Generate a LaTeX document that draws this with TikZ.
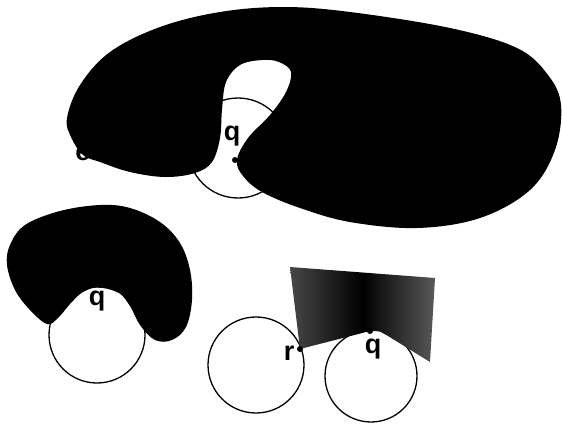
\documentclass[tikz,border=0pt]{standalone}
\usepackage{fontspec}
\setsansfont{Liberation Sans}
\begin{document}
\begin{tikzpicture}[x=1pt,y=-1pt,
  ring/.style={draw=black,line width=1.3pt,fill=white},
  blob/.style={fill=black,draw=none},
  lab/.style={font=\sffamily\bfseries\fontsize{27}{27}\selectfont,inner sep=0pt,text=black},
  pt/.style={circle,fill=black,inner sep=0pt,minimum size=6pt}]
\useasboundingbox (0,0) rectangle (562,429);
% top figure
\draw[ring] (238,148) circle (50);
\fill[blob] plot[smooth cycle,tension=0.6] coordinates {
 (67,118) (80,85) (110,52) (160,27) (220,12) (283,7) (350,12) (450,28)
 (517,48) (548,75) (561,105) (555,150) (530,190) (480,218) (417,228)
 (350,222) (300,208) (262,192) (243,176) (237,160) (248,138) (270,115)
 (286,92) (291,72) (279,62) (262,60) (240,65) (226,82) (222,110)
 (220,138) (212,162) (195,173) (165,177) (130,172) (100,162) (83,155) (71,137)};
\node[lab] (e) at (83,153) {e};
\node[lab] (q1) at (232,136) {q};
\node[pt] (d1) at (235,160) {};
% bottom left
\draw[ring] (97,335) circle (48);
\fill[blob] plot[smooth cycle,tension=0.6] coordinates {
 (100,205) (60,211) (25,225) (10,245) (7,265) (15,290) (30,310) (47,324)
 (58,318) (70,304) (83,292) (100,287) (118,292) (130,306) (140,325)
 (155,340) (172,340) (186,327) (192,300) (190,270) (180,243) (160,222) (130,208)};
\node[lab] (q2) at (97,301) {q};
% bottom right
\draw[ring] (256,365) circle (48);
\draw[ring] (371,376) circle (46);
\shade[left color=black!72,right color=black!65,middle color=black]
 (290,267) -- (435,278) -- (430,362) -- (388,336) -- (379,331) -- (370,331) -- (300,349) -- cycle;
\node[pt] (r) at (300,349) {};
\node[pt] (d3) at (370,331) {};
\node[lab] (rl) at (289,353) {r};
\node[lab] (q3) at (373,349) {q};
\end{tikzpicture}
\end{document}
